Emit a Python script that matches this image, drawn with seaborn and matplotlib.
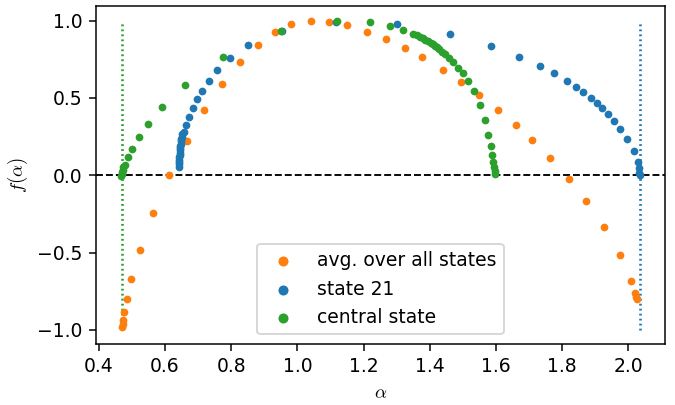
import numpy as np
import matplotlib
matplotlib.use("Agg")
import matplotlib.pyplot as plt
import seaborn as sns

plt.rcParams['mathtext.fontset'] = 'cm'

# avg. over all states
avg_alpha = [0.470, 0.472, 0.474, 0.477, 0.484, 0.498, 0.525, 0.564, 0.612, 0.666,
             0.719, 0.773, 0.827, 0.880, 0.931, 0.980, 1.040, 1.094, 1.150, 1.211,
             1.268, 1.326, 1.377, 1.441, 1.495, 1.547, 1.607, 1.661, 1.708, 1.762,
             1.819, 1.871, 1.925, 1.974, 2.008, 2.019, 2.023, 2.026]
avg_f = [-0.981, -0.961, -0.935, -0.886, -0.804, -0.670, -0.481, -0.244, 0.000, 0.224,
         0.422, 0.590, 0.732, 0.844, 0.924, 0.977, 0.997, 0.991, 0.970, 0.928,
         0.879, 0.823, 0.765, 0.683, 0.605, 0.521, 0.422, 0.323, 0.228, 0.112,
         -0.026, -0.166, -0.334, -0.515, -0.683, -0.763, -0.785, -0.802]

# state 21
s21_alpha = [0.641, 0.642, 0.642, 0.643, 0.643, 0.644, 0.644, 0.645, 0.645, 0.646,
             0.647, 0.648, 0.649, 0.650, 0.652, 0.657, 0.664, 0.672, 0.684, 0.697,
             0.713, 0.732, 0.758, 0.797, 0.852, 0.952, 1.115, 1.301, 1.462, 1.586,
             1.670, 1.734, 1.774, 1.815, 1.842, 1.864, 1.886, 1.904, 1.919, 1.937,
             1.957, 1.975, 1.996, 2.016, 2.028, 2.031, 2.033, 2.034]
s21_f = [0.056, 0.070, 0.085, 0.100, 0.115, 0.130, 0.145, 0.160, 0.175, 0.190,
         0.205, 0.220, 0.235, 0.250, 0.265, 0.278, 0.323, 0.379, 0.435, 0.491,
         0.547, 0.610, 0.679, 0.756, 0.844, 0.933, 0.993, 0.980, 0.915, 0.834,
         0.765, 0.707, 0.659, 0.610, 0.571, 0.537, 0.498, 0.465, 0.433, 0.396,
         0.351, 0.301, 0.237, 0.157, 0.084, 0.045, 0.017, 0.003]

# central state
cen_alpha = [0.468, 0.469, 0.470, 0.472, 0.474, 0.478, 0.489, 0.501, 0.522, 0.550,
             0.591, 0.660, 0.775, 0.951, 1.118, 1.218, 1.279, 1.320, 1.348, 1.360,
             1.369, 1.378, 1.385, 1.394, 1.402, 1.409, 1.415, 1.421, 1.427, 1.437,
             1.447, 1.457, 1.471, 1.486, 1.500, 1.516, 1.532, 1.551, 1.567, 1.577,
             1.584, 1.589, 1.592, 1.595, 1.597, 1.598]
cen_f = [-0.005, 0.005, 0.018, 0.035, 0.050, 0.067, 0.116, 0.170, 0.246, 0.330,
         0.441, 0.584, 0.763, 0.933, 0.997, 0.989, 0.965, 0.937, 0.915, 0.906,
         0.896, 0.886, 0.877, 0.866, 0.855, 0.846, 0.838, 0.828, 0.818, 0.799,
         0.782, 0.760, 0.732, 0.696, 0.659, 0.610, 0.545, 0.452, 0.355, 0.262,
         0.189, 0.129, 0.084, 0.052, 0.026, 0.008]

alpha_min = 0.469
alpha_max = 2.034

fig, ax = plt.subplots(figsize=(5, 3), dpi=135)

sns.scatterplot(x=avg_alpha, y=avg_f, color='C1', s=17, linewidth=0,
                label='avg. over all states', ax=ax, zorder=3)
sns.scatterplot(x=s21_alpha, y=s21_f, color='C0', s=17, linewidth=0,
                label='state 21', ax=ax, zorder=3)
sns.scatterplot(x=cen_alpha, y=cen_f, color='C2', s=17, linewidth=0,
                label='central state', ax=ax, zorder=3)

ax.axhline(0, color='k', linestyle='--', linewidth=1, zorder=2)
ax.vlines(alpha_min, -1, 1, colors='C2', linestyles=(0, (0.7, 1.2)), linewidth=1.4)
ax.vlines(alpha_max, -1, 1, colors='C0', linestyles=(0, (0.7, 1.2)), linewidth=1.4)

ax.set_xlim(0.391, 2.110)
ax.set_ylim(-1.091, 1.097)
ax.set_xticks(np.arange(0.4, 2.01, 0.2))
ax.set_yticks([-1.0, -0.5, 0.0, 0.5, 1.0])
ax.set_xlabel(r'$\alpha$')
ax.set_ylabel(r'$f(\alpha)$')
ax.legend(loc='lower center', markerscale=1.3)

plt.subplots_adjust(left=0.142, right=0.985, top=0.986, bottom=0.151)
plt.savefig('out.png')
